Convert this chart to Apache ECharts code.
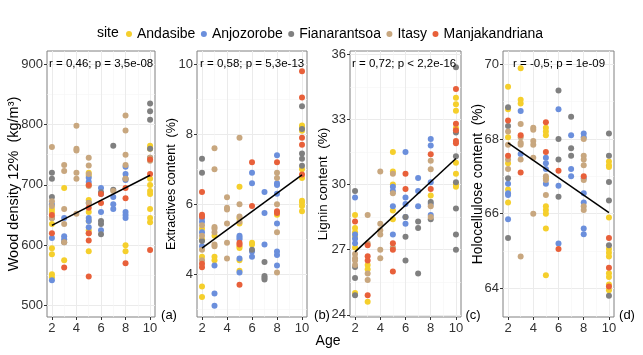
<!DOCTYPE html>
<html>
<head>
<meta charset="utf-8">
<script src="https://cdn.jsdelivr.net/npm/echarts@6/dist/echarts.min.js"></script>
<style>
  html, body { margin: 0; padding: 0; background: #fff; }
  #chart { width: 643px; height: 355px; }
</style>
</head>
<body>
<div id="chart"></div>
<script>
// sites and colours (legend order)
const sites = ['Andasibe', 'Anjozorobe', 'Fianarantsoa', 'Itasy', 'Manjakandriana'];
const siteColors = ['#f5cf2c', '#6b8fdc', '#808080', '#c8a77f', '#e8603a'];

const xTicks = [2, 4, 6, 8, 10];
const xMinor = [3, 5, 7, 9];

// (a) wood density 12% — [age, value]
const density = {
  Andasibe: [[2,660],[2,655],[2,635],[2,595],[2,585],[2,552],[2,547],[3,695],[3,575],[5,720],[5,715],[5,700],[5,675],[5,655],[5,640],[5,625],[5,590],[8,600],[8,590],[10,765],[10,760],[10,710],[10,700],[10,690],[10,685],[10,660],[10,645],[10,638]],
  Anjozorobe: [[2,668],[2,612],[2,542],[3,645],[3,615],[3,610],[5,712],[5,705],[5,670],[5,645],[5,640],[5,630],[6,695],[6,685],[6,655],[6,625],[7,680],[7,668],[7,660],[8,730],[8,718],[8,708],[8,655],[8,650],[8,645]],
  Fianarantsoa: [[2,720],[2,710],[2,680],[2,645],[3,605],[6,688],[6,640],[6,635],[6,618],[7,765],[7,692],[8,710],[10,835],[10,822],[10,808],[10,760],[10,745]],
  Itasy: [[2,763],[2,673],[2,665],[2,645],[3,733],[3,723],[3,660],[3,635],[3,605],[4,798],[4,760],[4,757],[4,720],[4,710],[4,652],[5,745],[5,732],[5,718],[5,698],[5,670],[5,620],[7,690],[8,815],[8,790],[8,750],[8,733],[8,710],[10,745],[10,740]],
  Manjakandriana: [[2,650],[2,620],[3,563],[5,700],[5,662],[5,620],[5,608],[5,548],[6,685],[6,670],[8,695],[8,678],[8,570],[10,742],[10,718],[10,592]]
};
const densityFit = [[2, 633], [10, 716]];
const densityTicks = [500, 600, 700, 800, 900];
const densityMinor = [550, 650, 750, 850];

// (b) extractives content
const extractives = {
  Andasibe: [[2,5.3],[2,5.0],[2,4.5],[2,3.65],[2,3.35],[3,5.1],[3,4.5],[3,4.4],[5,6.5],[5,5.6],[5,5.45],[5,4.8],[5,4.75],[5,4.4],[5,4.1],[6,4.9],[6,4.85],[8,5.7],[10,8.25],[10,8.2],[10,8.1],[10,7.0],[10,6.75],[10,6.1],[10,6.05],[10,5.95],[10,5.8]],
  Anjozorobe: [[2,5.6],[2,5.5],[2,5.2],[2,4.8],[3,4.25],[3,3.45],[3,3.1],[5,5.1],[5,5.05],[5,5.0],[5,4.45],[5,4.05],[6,6.9],[6,6.6],[6,4.65],[6,4.5],[7,6.35],[7,5.75],[7,4.85],[8,7.4],[8,6.6],[8,6.55],[8,6.3],[8,5.45],[8,4.65],[8,4.55],[8,4.25]],
  Fianarantsoa: [[2,7.3],[2,6.9],[2,4.95],[6,4.7],[7,4.35],[7,3.95],[7,3.9],[7,3.85],[10,8.8],[10,8.15],[10,7.45],[10,7.3],[10,7.1]],
  Itasy: [[2,5.4],[2,5.1],[2,4.7],[2,4.4],[3,7.6],[3,7.0],[3,5.35],[3,5.3],[3,5.2],[3,4.85],[3,4.8],[4,6.2],[4,5.9],[4,5.85],[4,5.45],[4,4.9],[4,4.45],[5,7.9],[5,6.0],[5,5.65],[5,5.5],[8,6.9],[8,6.75],[8,6.0],[8,5.2],[8,4.05]],
  Manjakandriana: [[2,6.35],[2,5.7],[2,5.65],[2,4.3],[2,4.2],[5,4.9],[5,4.85],[5,3.7],[6,7.2],[6,5.95],[8,7.2],[8,5.8],[8,5.75],[10,9.8],[10,9.05],[10,7.9],[10,7.7],[10,6.85]]
};
const extractivesFit = [[2, 4.75], [10, 6.84]];
const extractivesTicks = [4, 6, 8, 10];
const extractivesMinor = [3, 5, 7, 9];

// (c) lignin content
const lignin = {
  Andasibe: [[2,28.6],[2,28.0],[2,27.8],[2,27.6],[2,27.1],[2,25.0],[3,26.3],[3,26.1],[3,24.6],[5,31.5],[5,30.6],[5,30.0],[5,28.8],[5,28.4],[8,29.5],[10,34.0],[10,33.7],[10,33.4],[10,32.6],[10,31.0],[10,30.5],[10,30.0],[10,29.9]],
  Anjozorobe: [[2,29.4],[2,27.7],[2,27.5],[2,27.3],[5,29.9],[5,29.7],[5,29.0],[5,27.7],[6,31.5],[6,29.4],[6,29.1],[6,28.5],[6,28.2],[7,30.3],[7,29.7],[7,29.0],[8,32.1],[8,31.8],[8,30.1],[8,29.1],[8,28.6]],
  Fianarantsoa: [[2,29.7],[2,26.2],[2,25.7],[2,24.9],[6,28.5],[6,27.6],[6,26.5],[7,28.3],[7,28.0],[7,25.9],[8,29.2],[8,28.4],[10,35.4],[10,32.4],[10,31.3],[10,30.1],[10,28.9],[10,27.7],[10,27.0]],
  Itasy: [[2,26.8],[2,26.6],[2,26.5],[2,26.3],[3,28.6],[3,27.3],[3,25.9],[3,25.6],[4,30.6],[4,28.2],[4,27.9],[4,27.7],[4,27.0],[4,26.6],[5,30.5],[5,29.6],[5,27.1],[8,31.1],[8,30.7],[8,29.0],[8,28.5]],
  Manjakandriana: [[2,28.3],[3,27.2],[3,26.7],[3,26.5],[3,24.9],[5,27.3],[5,27.0],[5,26.0],[6,30.5],[6,29.8],[8,31.4],[8,29.8],[10,34.4],[10,32.8],[10,32.5],[10,32.0],[10,31.9]]
};
const ligninFit = [[2, 26.9], [10, 31.2]];
const ligninTicks = [24, 27, 30, 33, 36];
const ligninMinor = [25.5, 28.5, 31.5, 34.5];

// (d) holocellulose content
const holocellulose = {
  Andasibe: [[2,69.4],[2,68.8],[2,68.05],[2,67.35],[2,66.65],[2,66.3],[3,69.9],[3,69.05],[3,68.95],[5,68.3],[5,68.2],[5,68.1],[5,66.95],[5,66.2],[5,66.1],[5,66.0],[5,65.6],[5,64.35],[10,67.4],[10,67.3],[10,67.25],[10,65.9],[10,65.05],[10,64.95],[10,64.85],[10,64.4],[10,64.3],[10,64.1],[10,63.95]],
  Anjozorobe: [[2,66.8],[2,66.55],[2,66.5],[2,65.85],[3,68.75],[3,67.6],[5,67.5],[5,67.35],[5,67.2],[5,66.8],[6,68.8],[6,66.75],[6,65.2],[7,68.1],[7,67.2],[7,67.0],[8,68.15],[8,68.05],[8,66.95],[8,66.55],[8,66.3],[8,65.6],[8,65.45]],
  Fianarantsoa: [[2,68.85],[2,68.35],[2,66.95],[2,65.35],[6,69.3],[6,68.0],[6,67.45],[6,66.45],[7,68.6],[7,67.75],[7,67.55],[10,68.15],[10,67.55],[10,66.85],[10,66.35],[10,65.15],[10,63.8]],
  Itasy: [[2,68.2],[2,67.85],[2,67.45],[2,67.2],[3,68.4],[3,68.05],[3,67.9],[3,67.85],[3,67.45],[3,64.85],[4,68.3],[4,68.25],[4,67.95],[4,67.85],[4,67.5],[4,66.0],[5,67.0],[5,66.9],[5,66.5],[8,68.0],[8,67.55],[8,67.45],[8,67.3],[8,66.9],[8,66.2],[8,66.1]],
  Manjakandriana: [[2,68.5],[2,67.55],[3,68.1],[3,67.1],[5,68.45],[5,67.65],[6,67.15],[6,65.05],[8,67.0],[10,65.35],[10,64.55],[10,64.05]]
};
const holoFit = [[2, 67.9], [10, 66.03]];
const holoTicks = [64, 66, 68, 70];
const holoMinor = [63, 65, 67, 69];

const panels = [
  { data: density, fit: densityFit, ticks: densityTicks, minor: densityMinor, min: 481, max: 922,
    title: 'Wood density 12%  (kg/m³)', stat: 'r = 0,46; p = 3,5e-08', tag: '(a)' },
  { data: extractives, fit: extractivesFit, ticks: extractivesTicks, minor: extractivesMinor, min: 2.78, max: 10.38,
    title: 'Extractives content  (%)', stat: 'r = 0,58; p = 5,3e-13', tag: '(b)' },
  { data: lignin, fit: ligninFit, ticks: ligninTicks, minor: ligninMinor, min: 23.9, max: 36.15,
    title: 'Lignin content  (%)', stat: 'r = 0,72; p < 2,2e-16', tag: '(c)' },
  { data: holocellulose, fit: holoFit, ticks: holoTicks, minor: holoMinor, min: 63.23, max: 70.36,
    title: 'Holocellulose content  (%)', stat: 'r = -0,5; p = 1e-09', tag: '(d)' }
];

// layout of the four panels
const boxes = [
  { left: 47, top: 51, width: 108, height: 266, titleX: 13.5, titleSize: 14.5, statX: 49, tagX: 169 },
  { left: 197, top: 51, width: 110, height: 266, titleX: 172, titleSize: 12.5, statX: 200, tagX: 322 },
  { left: 350, top: 51, width: 111, height: 266, titleX: 323, titleSize: 13.5, statX: 352, tagX: 473 },
  { left: 503, top: 51, width: 111, height: 266, titleX: 478, titleSize: 13.8, statX: 513, tagX: 627 }
];

const FONT = '"Liberation Sans", Arial, sans-serif';
const GRID_MAJOR = '#ebebeb';
const GRID_MINOR = '#f5f5f5';

const chart = echarts.init(document.getElementById('chart'), null, { renderer: 'canvas' });

const grid = boxes.map(b => ({
  left: b.left, top: b.top, width: b.width, height: b.height,
  show: true, borderColor: '#808080', borderWidth: 1, backgroundColor: 'transparent', containLabel: false
}));

const xAxis = [];
const yAxis = [];
// major axes (labels, ticks, major grid lines)
panels.forEach((p, i) => {
  xAxis.push({
    type: 'value', gridIndex: i, min: 1.6, max: 10.4,
    axisLine: { show: false },
    axisTick: { show: true, length: 3, customValues: xTicks, lineStyle: { color: '#333' } },
    axisLabel: { customValues: xTicks, fontSize: 13, color: '#333', fontFamily: FONT, margin: 5 },
    splitLine: { show: true, lineStyle: { color: GRID_MAJOR, width: 1 } }
  });
  yAxis.push({
    type: 'value', gridIndex: i, min: p.min, max: p.max,
    axisLine: { show: false },
    axisTick: { show: true, length: 3, customValues: p.ticks, lineStyle: { color: '#333' } },
    axisLabel: { customValues: p.ticks, fontSize: 13, color: '#333', fontFamily: FONT, margin: 4 },
    splitLine: { show: true, lineStyle: { color: GRID_MAJOR, width: 1 } }
  });
});
// minor grid lines
panels.forEach((p, i) => {
  xAxis.push({
    type: 'value', gridIndex: i, min: 1.6, max: 10.4,
    axisLine: { show: false }, axisLabel: { show: false },
    axisTick: { show: false, customValues: xMinor },
    splitLine: { show: true, lineStyle: { color: GRID_MINOR, width: 0.6 } }
  });
  yAxis.push({
    type: 'value', gridIndex: i, min: p.min, max: p.max,
    axisLine: { show: false }, axisLabel: { show: false },
    axisTick: { show: false, customValues: p.minor },
    splitLine: { show: true, lineStyle: { color: GRID_MINOR, width: 0.6 } }
  });
});

const series = [];
panels.forEach((p, i) => {
  sites.forEach((s, k) => {
    series.push({
      type: 'scatter', name: s, xAxisIndex: i, yAxisIndex: i,
      data: p.data[s], symbol: 'circle', symbolSize: 6,
      itemStyle: { color: siteColors[k], opacity: 1 },
      emphasis: { disabled: true }, z: 3
    });
  });
  series.push({
    type: 'line', name: 'fit', xAxisIndex: i, yAxisIndex: i,
    data: p.fit, symbol: 'none', silent: true,
    lineStyle: { color: '#000', width: 1.5 }, z: 5
  });
});

const graphic = [];
graphic.push({
  type: 'text', x: 97, y: 33,
  style: { text: 'site', font: '14px ' + FONT, fill: '#000', align: 'left', verticalAlign: 'middle' }
});
panels.forEach((p, i) => {
  const b = boxes[i];
  graphic.push({
    type: 'text', x: b.titleX, y: b.top + b.height / 2, rotation: Math.PI / 2,
    style: { text: p.title, font: b.titleSize + 'px ' + FONT, fill: '#000', align: 'center', verticalAlign: 'middle' }
  });
  graphic.push({
    type: 'text', x: b.statX, y: 64, z: 10,
    style: { text: p.stat, font: '11.5px ' + FONT, fill: '#000', align: 'left', verticalAlign: 'middle' }
  });
  graphic.push({
    type: 'text', x: b.tagX, y: 315,
    style: { text: p.tag, font: '13px ' + FONT, fill: '#000', align: 'center', verticalAlign: 'middle' }
  });
});
graphic.push({
  type: 'text', x: 328, y: 341,
  style: { text: 'Age', font: '14px ' + FONT, fill: '#000', align: 'center', verticalAlign: 'middle' }
});

chart.setOption({
  backgroundColor: '#fff',
  animation: false,
  legend: {
    data: sites, left: 126, top: 27, padding: 0, orient: 'horizontal',
    itemWidth: 6, itemHeight: 6, itemGap: 5.5, icon: 'circle',
    textStyle: { fontSize: 14, color: '#000', fontFamily: FONT }
  },
  grid, xAxis, yAxis, series, graphic
});
</script>
</body>
</html>
